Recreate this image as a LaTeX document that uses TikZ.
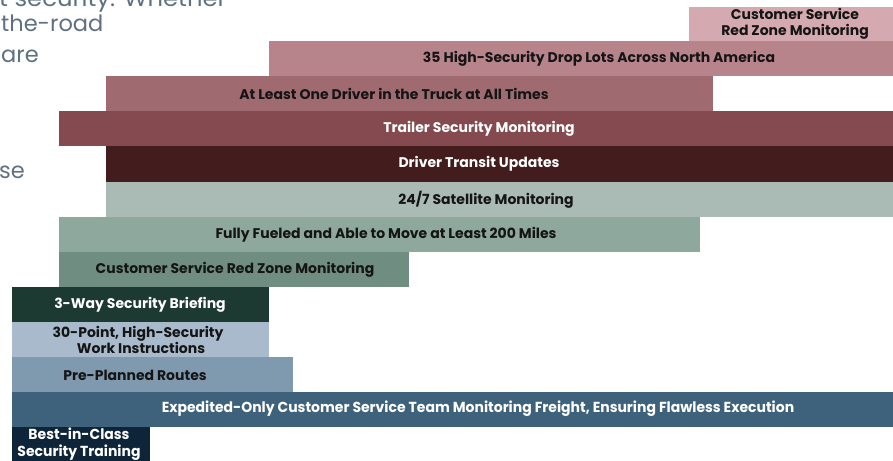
\documentclass[tikz,border=0pt]{standalone}
\usepackage{fontspec}
\setmainfont{Poppins}
\newfontfamily\narrowfont{Poppins}[FakeStretch=0.965]
\definecolor{cA}{HTML}{D4A9AF}
\definecolor{cB}{HTML}{B8848B}
\definecolor{cC}{HTML}{A06A71}
\definecolor{cD}{HTML}{844A4F}
\definecolor{cE}{HTML}{431C1E}
\definecolor{cF}{HTML}{A9BBB4}
\definecolor{cG}{HTML}{8EA89D}
\definecolor{cH}{HTML}{6F8D80}
\definecolor{cI}{HTML}{1C3A31}
\definecolor{cJ}{HTML}{A9BACC}
\definecolor{cK}{HTML}{7F9AAF}
\definecolor{cL}{HTML}{3E627C}
\definecolor{cM}{HTML}{0E2438}
\definecolor{introcol}{HTML}{5F7180}
\definecolor{ink}{HTML}{151515}
\begin{document}
\begin{tikzpicture}[x=1pt,y=-1pt,
  lbl/.style={font=\fontsize{14}{16}\selectfont\bfseries, text=ink, align=center, inner sep=0pt},
  wlbl/.style={lbl, text=white},
  nlbl/.style={font=\narrowfont\fontsize{14.5}{16.5}\selectfont\bfseries, text=white, align=center, inner sep=0pt},
  intro/.style={font=\fontsize{22.5}{28}\selectfont, text=introcol, anchor=base west, inner sep=0pt}]
\useasboundingbox (0,0) rectangle (893,460);
\clip (0,0) rectangle (893,460);
\fill[white] (0,0) rectangle (893,460);
% intro text fragments
\node[intro] (p1) at (-1,6.5) {\scalebox{1.08}[1]{t security. Whether}};
\node[intro] (p2) at (1,32) {the-road};
\node[intro] (p3) at (1,63) {are};
\node[intro] (p4) at (-1,178) {se};
% bars
\fill[cA] (689,7) rectangle (893,41);
\fill[cB] (269,41) rectangle (893,76);
\fill[cC] (106,76) rectangle (713,111);
\fill[cD] (59,111) rectangle (893,146);
\fill[cE] (106,146) rectangle (893,182);
\fill[cF] (106,182) rectangle (893,217);
\fill[cG] (59,217) rectangle (700,252);
\fill[cH] (59,252) rectangle (409,287);
\fill[cI] (12,287) rectangle (269,322);
\fill[cJ] (12,322) rectangle (269,357);
\fill[cK] (12,357) rectangle (293,392);
\fill[cL] (12,392) rectangle (893,427);
\fill[cM] (12,427) rectangle (150,462);
% labels
\node[lbl] (t1) at (795,24) {Customer Service\\Red Zone Monitoring};
\node[lbl] (t2) at (599,59) {35 High-Security Drop Lots Across North America};
\node[lbl] (t3) at (394,94) {At Least One Driver in the Truck at All Times};
\node[wlbl] (t4) at (479,129) {Trailer Security Monitoring};
\node[wlbl] (t5) at (479,164) {Driver Transit Updates};
\node[lbl] (t6) at (486,200) {24/7 Satellite Monitoring};
\node[lbl] (t7) at (386,235) {Fully Fueled and Able to Move at Least 200 Miles};
\node[lbl] (t8) at (235,270) {Customer Service Red Zone Monitoring};
\node[wlbl] (t9) at (140,305) {3-Way Security Briefing};
\node[lbl] (t10) at (138,340) {30-Point, High-Security\\\ \ Work Instructions};
\node[lbl] (t11) at (135,375) {Pre-Planned Routes};
\node[nlbl] (t12) at (478,409) {Expedited-Only Customer Service Team Monitoring Freight, Ensuring Flawless Execution};
\node[nlbl] (t13) at (79,444) {Best-in-Class\\Security Training};
\end{tikzpicture}
\end{document}
